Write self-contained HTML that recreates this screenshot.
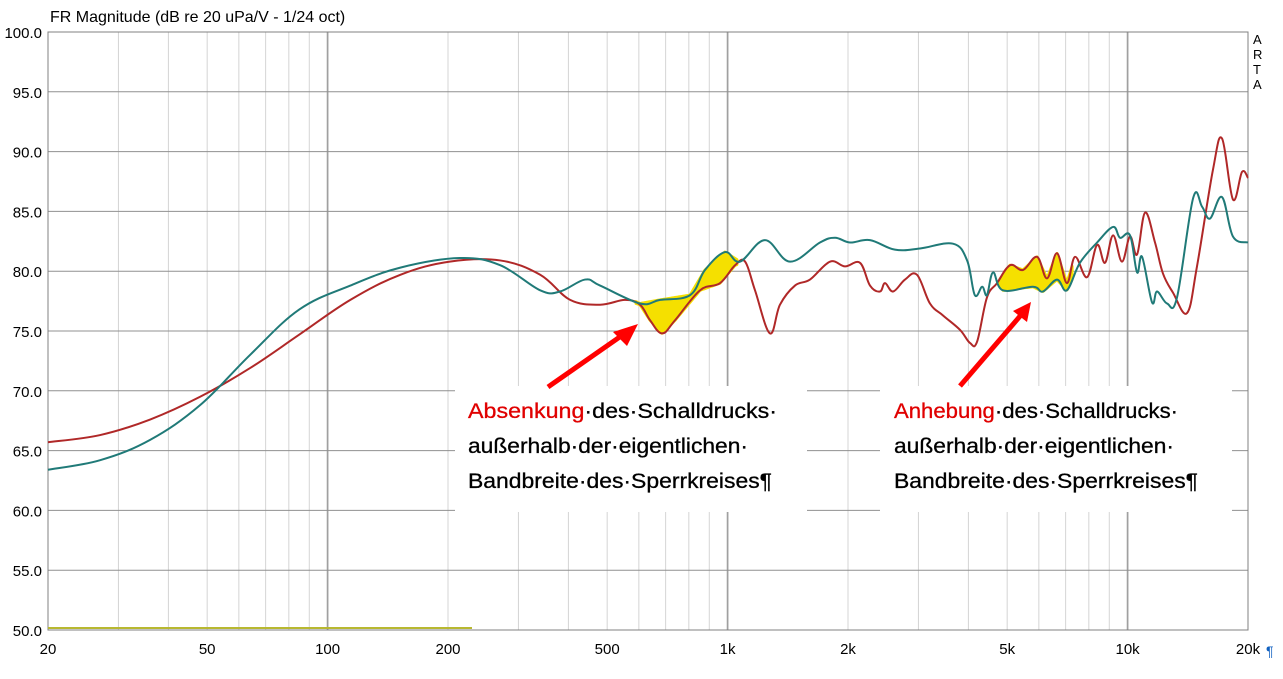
<!DOCTYPE html>
<html><head><meta charset="utf-8"><style>
body{margin:0;background:#fff;}
svg text{font-family:"Liberation Sans",sans-serif;}
</style></head><body>
<svg id="chart" width="1283" height="674" xmlns="http://www.w3.org/2000/svg">
<rect width="1283" height="674" fill="#fff"/>
<text x="50" y="22" font-size="16" fill="#000">FR Magnitude (dB re 20 uPa/V - 1/24 oct)</text>
<g id="grid"></g><g id="fills"></g><g id="lines"></g><g id="labels"></g>
<text font-size="13" fill="#000"><tspan x="1253" y="44">A</tspan><tspan x="1253" y="59">R</tspan><tspan x="1253" y="74">T</tspan><tspan x="1253" y="89">A</tspan></text>
<line x1="48" y1="628" x2="472" y2="628" stroke="#b8b830" stroke-width="2"/>
<g>
<rect x="455" y="386" width="352" height="126" fill="#fff"/>
<text x="468" y="418" font-size="21" fill="#000" textLength="309" lengthAdjust="spacingAndGlyphs" stroke="#000" stroke-width="0.3"><tspan fill="#e00000" stroke="#e00000">Absenkung</tspan>·des·Schalldrucks·</text>
<text x="468" y="453" font-size="21" fill="#000" textLength="280" lengthAdjust="spacingAndGlyphs" stroke="#000" stroke-width="0.3">außerhalb·der·eigentlichen·</text>
<text x="468" y="488" font-size="21" fill="#000" textLength="304" lengthAdjust="spacingAndGlyphs" stroke="#000" stroke-width="0.3">Bandbreite·des·Sperrkreises¶</text>
<line x1="548" y1="387" x2="624" y2="334" stroke="#ff0000" stroke-width="5"/>
<polygon points="638,324 613,332 627,346" fill="#ff0000"/>
</g>
<g>
<rect x="880" y="386" width="352" height="126" fill="#fff"/>
<text x="894" y="418" font-size="21" fill="#000" textLength="284" lengthAdjust="spacingAndGlyphs" stroke="#000" stroke-width="0.3"><tspan fill="#e00000" stroke="#e00000">Anhebung</tspan>·des·Schalldrucks·</text>
<text x="894" y="453" font-size="21" fill="#000" textLength="280" lengthAdjust="spacingAndGlyphs" stroke="#000" stroke-width="0.3">außerhalb·der·eigentlichen·</text>
<text x="894" y="488" font-size="21" fill="#000" textLength="304" lengthAdjust="spacingAndGlyphs" stroke="#000" stroke-width="0.3">Bandbreite·des·Sperrkreises¶</text>
<line x1="960" y1="386" x2="1021" y2="315" stroke="#ff0000" stroke-width="5"/>
<polygon points="1031,302 1013,311 1027,322" fill="#ff0000"/>
</g>
<text x="1266" y="656" font-size="14" fill="#1060c0">¶</text>
</svg>
<script>
const tealF=[20,27,36,48,64,85,114,152,214,270,340,381,440,480,604,678,806,878,985,1074,1240,1432,1702,1856,2023,2270,2620,3027,3660,3970,4150,4330,4450,4610,4880,5800,6140,6660,7050,7600,8390,9200,9570,10140,10560,10870,11510,11850,12550,13290,14580,15350,16070,17220,18340,20000];
const tealDb=[63.4,64.2,65.9,68.8,73.0,76.8,78.8,80.3,81.1,80.5,78.4,78.3,79.3,78.8,77.3,77.6,78.0,80.1,81.6,80.8,82.6,80.8,82.4,82.8,82.4,82.6,81.8,81.9,82.3,80.9,78.0,78.7,78.0,79.9,78.4,78.7,78.3,79.3,78.4,80.7,82.4,83.7,82.8,83.0,79.9,81.2,77.4,78.3,77.3,77.8,86.1,85.4,84.4,86.2,82.9,82.4];
const redF=[20,27,36,48,64,85,114,152,202,270,340,404,480,554,604,640,686,739,853,957,1044,1106,1171,1276,1352,1474,1607,1803,1966,2143,2270,2404,2475,2593,2777,2976,3206,3456,3810,4036,4204,4450,4716,5082,5477,5937,6290,6660,7050,7390,7920,8390,8780,9200,9680,10140,10560,11060,11710,12260,12990,14080,14910,16350,17220,18340,19320,20000];
const redDb=[65.7,66.3,67.6,69.5,71.9,74.7,77.6,79.7,80.8,80.9,79.7,77.6,77.2,77.6,77.2,75.9,74.8,75.9,78.4,79.0,80.5,80.8,78.4,74.8,77.2,78.8,79.3,80.8,80.4,80.7,78.8,78.3,79.0,78.3,79.3,79.7,77.3,76.3,75.1,74.0,74.1,77.8,79.0,80.5,80.1,81.2,79.4,81.5,79.0,81.2,79.5,82.2,80.7,83.0,80.8,82.9,81.4,84.9,82.4,79.8,78.2,76.5,80.4,88.5,91.1,86.0,88.3,87.8];
const yTicks=[100,95,90,85,80,75,70,65,60,55,50];
const xTickF=[20,50,100,200,500,1000,2000,5000,10000,20000];
const xTickL=["20","50","100","200","500","1k","2k","5k","10k","20k"];
const fillRanges=[[590,1060],[4800,7300]];
const X0=48,X1=1248,Y0=32,Y1=630;
const xs=f=>X0+(Math.log10(f/20)/3)*(X1-X0);
const ys=d=>Y0+(100-d)/50*(Y1-Y0);
const NS="http://www.w3.org/2000/svg";
function mk(tag,attrs,parent){const e=document.createElementNS(NS,tag);for(const k in attrs)e.setAttribute(k,attrs[k]);parent.appendChild(e);return e;}
const grid=document.getElementById('grid'),lines=document.getElementById('lines'),labels=document.getElementById('labels'),fills=document.getElementById('fills');
for(let dec=10;dec<=10000;dec*=10){for(let m=1;m<=10;m++){const f=dec*m;if(f<20||f>20000)continue;const major=(m===1||m===10)&&f!==20&&f!==20000;
const l=mk('line',{x1:xs(f),x2:xs(f),y1:Y0,y2:Y1,stroke:major?'#a0a0a0':'#d4d4d4','stroke-width':major?1.5:1},grid);

}}
yTicks.forEach(d=>{const l=mk('line',{x1:X0,x2:X1,y1:ys(d),y2:ys(d),stroke:'#909090','stroke-width':1},grid);


const t=mk('text',{x:42,y:ys(d)+6,'text-anchor':'end','font-size':15,fill:'#000'},labels);t.textContent=d.toFixed(1);

});
const fr=mk('rect',{x:X0,y:Y0,width:X1-X0,height:Y1-Y0,fill:'none',stroke:'#808080','stroke-width':1},grid);


xTickF.forEach((f,i)=>{const t=mk('text',{x:xs(f),y:654,'text-anchor':'middle','font-size':15,fill:'#000'},labels);t.textContent=xTickL[i];

});
function interp(F,D,f){for(let i=0;i<F.length-1;i++){if(f>=F[i]&&f<=F[i+1]){const a=(Math.log(f)-Math.log(F[i]))/(Math.log(F[i+1])-Math.log(F[i]));return D[i]+a*(D[i+1]-D[i]);}}return D[D.length-1];}
fillRanges.forEach(r=>{const top=[],bot=[];for(let px=xs(r[0]);px<=xs(r[1]);px+=1){const f=20*Math.pow(10,3*(px-X0)/(X1-X0));top.push(px+','+ys(interp(tealF,tealDb,f)));bot.unshift(px+','+ys(interp(redF,redDb,f)));}
const p=mk('polygon',{points:top.concat(bot).join(' '),fill:'#f5e000',stroke:'#f5e000','stroke-width':3,'stroke-linejoin':'round'},fills);

});
function smoothPath(P){let d='M'+P[0][0]+','+P[0][1];for(let i=0;i<P.length-1;i++){const p0=P[i-1]||P[i],p1=P[i],p2=P[i+1],p3=P[i+2]||p2;const t=0.18;
const c1=[p1[0]+(p2[0]-p0[0])*t,p1[1]+(p2[1]-p0[1])*t],c2=[p2[0]-(p3[0]-p1[0])*t,p2[1]-(p3[1]-p1[1])*t];
d+=' C'+c1[0]+','+c1[1]+' '+c2[0]+','+c2[1]+' '+p2[0]+','+p2[1];}return d;}
function curve(F,D,color,name){const P=F.map((f,i)=>[xs(f),ys(D[i])]);
const p=mk('path',{d:smoothPath(P),fill:'none',stroke:color,'stroke-width':2,'stroke-linejoin':'round'},lines);

}
curve(redF,redDb,'#b02828','red-response-curve');
curve(tealF,tealDb,'#207a78','teal-response-curve');
</script>
</body></html>
